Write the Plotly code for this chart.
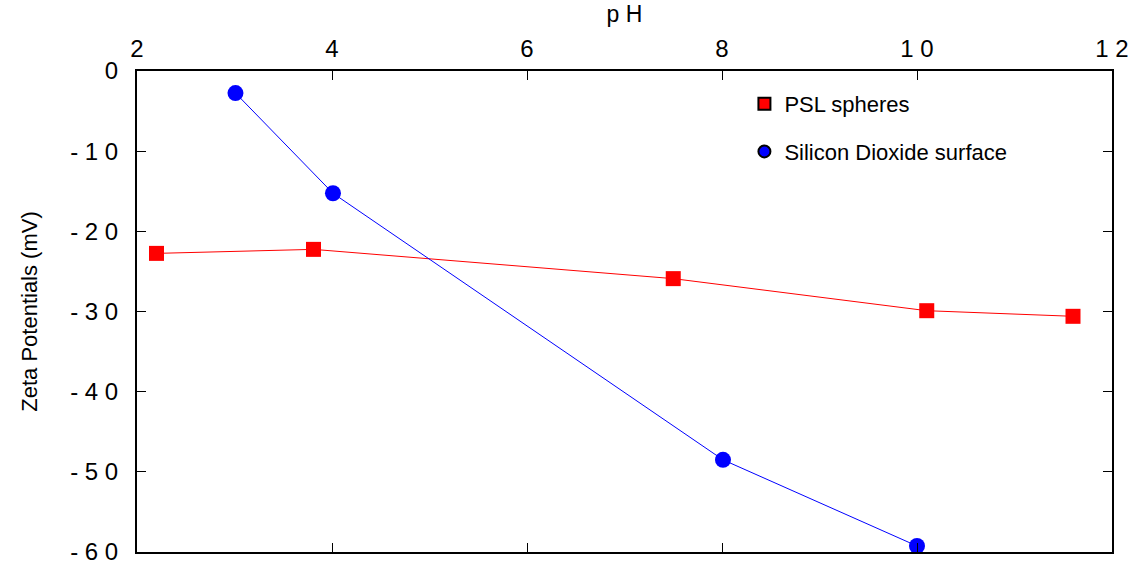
import plotly.graph_objects as go

# Data
psl_ph = [2.2, 3.81, 7.5, 10.1, 11.6]
psl_zeta = [-22.75, -22.25, -25.9, -29.9, -30.6]
sio2_ph = [3.01, 4.01, 8.01, 10.0]
sio2_zeta = [-2.75, -15.25, -48.5, -59.25]

x_tickvals = [2, 4, 6, 8, 10, 12]
x_ticktext = ["2", "4", "6", "8", "1 0", "1 2"]
y_tickvals = [0, -10, -20, -30, -40, -50, -60]
y_ticktext = ["0", "- 1 0", "- 2 0", "- 3 0", "- 4 0", "- 5 0", "- 6 0"]

font_family = "Liberation Sans, Arial, sans-serif"

fig = go.Figure()
fig.add_trace(go.Scatter(
    x=psl_ph, y=psl_zeta, mode="lines+markers", name="PSL spheres",
    showlegend=False,
    line=dict(color="#ff0000", width=1),
    marker=dict(symbol="square", size=15, color="#ff0000", line=dict(width=0)),
))
fig.add_trace(go.Scatter(
    x=sio2_ph, y=sio2_zeta, mode="lines+markers", name="Silicon Dioxide surface",
    showlegend=False,
    line=dict(color="#0000ff", width=1),
    marker=dict(symbol="circle", size=16, color="#0000ff", line=dict(width=0)),
))
# legend entries (marker only, with outline)
fig.add_trace(go.Scatter(
    x=[None], y=[None], mode="markers", name="PSL spheres", legendgroup="a",
    marker=dict(symbol="square", size=18, color="#ff0000", line=dict(width=1.5, color="black")),
))
fig.add_trace(go.Scatter(
    x=[None], y=[None], mode="markers", name="Silicon Dioxide surface", legendgroup="b",
    marker=dict(symbol="circle", size=18, color="#0000ff", line=dict(width=1.5, color="black")),
))

axis_common = dict(
    showline=True, linecolor="black", linewidth=2, mirror="ticks",
    ticks="inside", ticklen=9, tickwidth=1, tickcolor="black",
    showgrid=False, zeroline=False, automargin=False,
    ticklabeloverflow="allow",
    tickfont=dict(family=font_family, size=24, color="black"),
)

fig.update_layout(
    width=1128, height=564,
    margin=dict(l=137, r=16, t=71, b=12),
    paper_bgcolor="white", plot_bgcolor="white",
    font=dict(family=font_family, color="black"),
    xaxis=dict(
        range=[2, 12], side="top", tickvals=x_tickvals, ticktext=x_ticktext,
        ticklabelstandoff=2,
        title=dict(text="p H", font=dict(size=23, family=font_family), standoff=6),
        **axis_common,
    ),
    yaxis=dict(
        range=[-60, 0], tickvals=y_tickvals, ticktext=y_ticktext,
        ticklabelstandoff=12,
        title=dict(text="Zeta Potentials (mV)", font=dict(size=22, family=font_family), standoff=26),
        **axis_common,
    ),
    legend=dict(
        x=0.623, y=0.975, xanchor="left", yanchor="top",
        font=dict(size=22, family=font_family),
        bgcolor="rgba(0,0,0,0)", traceorder="grouped", tracegroupgap=16,
        itemsizing="constant",
    ),
)

fig.write_html("out.html")
